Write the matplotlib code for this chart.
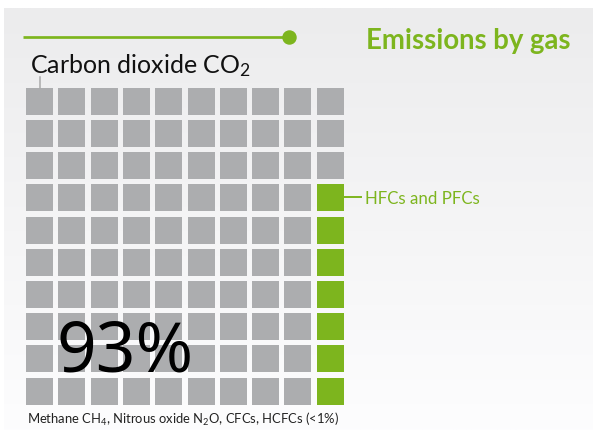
import numpy as np
import matplotlib.pyplot as plt
from matplotlib.patches import Rectangle

# waffle data: 100 cells, one per percent
labels = ["Carbon dioxide CO2", "HFCs and PFCs"]
shares = [93, 7]
colors = ["#acadaf", "#7db51e"]
n_rows = 10
n_cols = 10

GREEN = "#7db51e"
FONT = ["Lato", "Open Sans", "DejaVu Sans"]
plt.rcParams["font.family"] = FONT
plt.rcParams["mathtext.default"] = "regular"

fig = plt.figure(figsize=(5.93, 4.31), dpi=100)
ax = fig.add_axes([0, 0, 1, 1])
ax.set_xlim(0, 593)
ax.set_ylim(431, 0)
ax.axis("off")

# soft grey gradient panel behind everything
grad = np.linspace(236, 253, 200)[:, None] / 255.0
grad = np.repeat(grad, 2, axis=1)
ax.imshow(np.dstack([grad, grad, grad + 0.004]).clip(0, 1), extent=[4, 593, 431, 9],
          aspect="auto", zorder=0, interpolation="bilinear")

# cells filled column by column, top to bottom
cell_colors = []
for s, c in zip(shares, colors):
    cell_colors += [c] * s

x0, y0 = 26, 88.7
px, py = 32.3, 32.2
size = 27
for i, c in enumerate(cell_colors):
    col = i // n_rows
    row = i % n_rows
    ax.add_patch(Rectangle((x0 + col * px, y0 + row * py), size, size,
                           facecolor=c, edgecolor="none", zorder=2))

# header line with dot
ax.plot([23, 289], [38, 38], color=GREEN, lw=1.95, solid_capstyle="butt", zorder=3)
ax.plot([289], [38], "o", color=GREEN, ms=9.4, zorder=3)

ax.text(571, 49.3, "Emissions by gas", color=GREEN, fontsize=19.8, fontweight="bold",
        ha="right", va="baseline", zorder=4)

ax.text(30.5, 72.7, "Carbon dioxide CO$_{2}$", color="#111111", fontsize=18,
        ha="left", va="baseline", zorder=4)
ax.plot([40, 40], [78, 89], color="#aaaaaa", lw=1.1, zorder=3)

# label for the green block
ax.plot([343, 361], [198, 198], color=GREEN, lw=1.4, zorder=3)
ax.text(365, 204.3, "HFCs and PFCs", color=GREEN, fontsize=12.2,
        ha="left", va="baseline", zorder=4)

ax.text(57, 371.7, "93%", color="black", fontsize=50,
        family=["Noto Sans", "Open Sans"],
        ha="left", va="baseline", zorder=4)

ax.text(27, 424, "Methane CH$_{4}$, Nitrous oxide N$_{2}$O, CFCs, HCFCs (<1%)",
        color="#222222", fontsize=9.4, ha="left", va="baseline", zorder=4)

fig.savefig("out.png", dpi=100)
